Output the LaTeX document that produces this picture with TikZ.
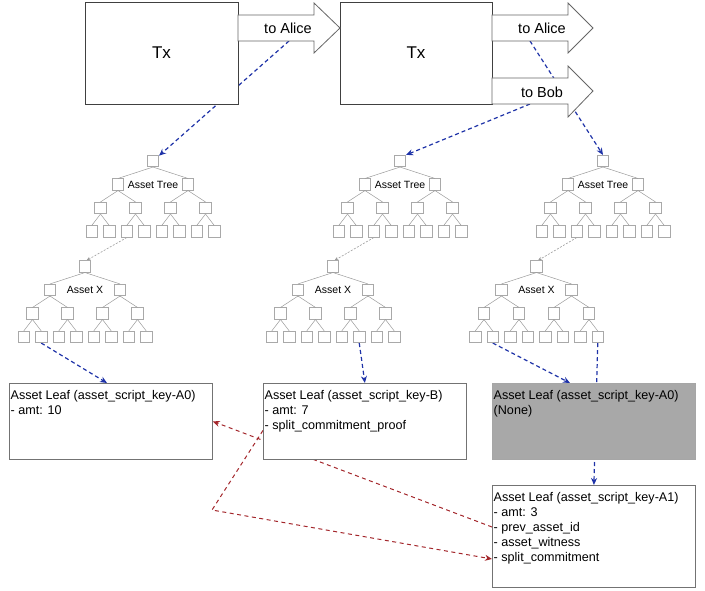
\documentclass[tikz,border=0pt]{standalone}
\usepackage{fontspec}
\setmainfont{Liberation Sans}
\usetikzlibrary{arrows.meta,backgrounds}
\definecolor{bdash}{HTML}{1F33A8}
\definecolor{rdash}{HTML}{A3262B}
\definecolor{tgray}{HTML}{9A9A9A}
\definecolor{boxgray}{HTML}{A8A8A8}
\tikzset{
 tbox/.style={draw=tgray!85, fill=white, line width=0.6pt, minimum width=11.5pt, minimum height=11.5pt, inner sep=0pt},
 tedge/.style={draw=tgray, line width=0.5pt},
 bintree/.pic={
  \node[tbox] (-r) at (0,0) {};
  \node[tbox] (-a) at (-35,23.5) {};
  \node[tbox] (-b) at (35,23.5) {};
  \node[tbox] (-m1) at (-52.5,47) {};
  \node[tbox] (-m2) at (-17.5,47) {};
  \node[tbox] (-m3) at (17.5,47) {};
  \node[tbox] (-m4) at (52.5,47) {};
  \node[tbox] (-l1) at (-61.25,70.5) {};
  \node[tbox] (-l2) at (-43.75,70.5) {};
  \node[tbox] (-l3) at (-26.25,70.5) {};
  \node[tbox] (-l4) at (-8.75,70.5) {};
  \node[tbox] (-l5) at (8.75,70.5) {};
  \node[tbox] (-l6) at (26.25,70.5) {};
  \node[tbox] (-l7) at (43.75,70.5) {};
  \node[tbox] (-l8) at (61.25,70.5) {};
  \node[font=\fontsize{10.5}{12}\selectfont, inner sep=0pt] (-lab) at (0,23.5) {#1};
  \draw[tedge] (-r.south) -- (-a.north);
  \draw[tedge] (-r.south) -- (-b.north);
  \draw[tedge] (-a.south) -- (-m1.north);
  \draw[tedge] (-a.south) -- (-m2.north);
  \draw[tedge] (-b.south) -- (-m3.north);
  \draw[tedge] (-b.south) -- (-m4.north);
  \draw[tedge] (-m1.south) -- (-l1.north);
  \draw[tedge] (-m1.south) -- (-l2.north);
  \draw[tedge] (-m2.south) -- (-l3.north);
  \draw[tedge] (-m2.south) -- (-l4.north);
  \draw[tedge] (-m3.south) -- (-l5.north);
  \draw[tedge] (-m3.south) -- (-l6.north);
  \draw[tedge] (-m4.south) -- (-l7.north);
  \draw[tedge] (-m4.south) -- (-l8.north);
 },
 txbox/.style={draw=black!75, fill=white, line width=0.8pt, minimum width=153pt, minimum height=102pt, font=\fontsize{17}{20}\selectfont},
 outarrow/.style={draw=black!60, fill=white, line width=0.8pt},
 arrowlabel/.style={font=\fontsize{14.5}{17}\selectfont, inner sep=0pt},
 leafbox/.style={draw=black!55, fill=white, line width=0.8pt, minimum width=203pt, minimum height=76pt, inner sep=0pt, anchor=north west},
 leaftext/.style={font=\fontsize{12.6}{15}\selectfont, align=left, inner sep=0pt, anchor=north west},
 bluelink/.style={draw=bdash, line width=1.2pt, dash pattern=on 4pt off 3pt, -{Stealth[length=7pt,width=6pt]}},
 greylink/.style={draw=tgray, line width=0.6pt, dash pattern=on 2pt off 1.5pt, -{Stealth[length=4pt,width=3.5pt]}},
 redlink/.style={draw=rdash, line width=1pt, dash pattern=on 4pt off 3.5pt, -{Stealth[length=7pt,width=6pt]}}
}
\begin{document}
\begin{tikzpicture}[x=1pt,y=-1pt]
\useasboundingbox (0,0) rectangle (705,591);
% transactions
\node[txbox] (tx1) at (161.5,53) {Tx};
\node[txbox, minimum width=152pt] (tx2) at (416,53) {Tx};
\draw[outarrow] (238,15) -- (314,15) -- (314,3) -- (340,28) -- (314,53) -- (314,41) -- (238,41) -- cycle;
\draw[outarrow] (492,15) -- (568,15) -- (568,3) -- (593,28) -- (568,53) -- (568,41) -- (492,41) -- cycle;
\draw[outarrow] (492,78) -- (568,78) -- (568,66) -- (593,91) -- (568,117) -- (568,104) -- (492,104) -- cycle;
\node[arrowlabel] (alice1) at (288,28) {to Alice};
\node[arrowlabel] (alice2) at (542,28) {to Alice};
\node[arrowlabel] (bob) at (542,92) {to Bob};
\coordinate (alice1b) at (289,41);
\coordinate (alice2b) at (530,41);
\coordinate (bobb) at (530,104);
% trees
\pic (T1) at (153,161) {bintree={Asset Tree}};
\pic (T2) at (400,161) {bintree={Asset Tree}};
\pic (T3) at (603,161) {bintree={Asset Tree}};
\pic (X1) at (85,266.5) {bintree={Asset X}};
\pic (X2) at (333,266.5) {bintree={Asset X}};
\pic (X3) at (536.5,266.5) {bintree={Asset X}};
% leaves
\node[leafbox] (leafA0) at (9,383) {};
\node[leafbox] (leafB) at (263,383) {};
\node[leafbox, fill=boxgray, draw=black!35] (leafN) at (492,383) {};
\node[leafbox, minimum height=102pt] (leafA1) at (492,485) {};
\node[leaftext] (txtA0) at ([xshift=1.5pt,yshift=-7.3pt]leafA0.north west) {Asset Leaf (asset\_script\_key-A0)\\- amt: 10};
\node[leaftext] (txtB) at ([xshift=1.5pt,yshift=-7.3pt]leafB.north west) {Asset Leaf (asset\_script\_key-B)\\- amt: 7\\- split\_commitment\_proof};
\node[leaftext] (txtN) at ([xshift=1.5pt,yshift=-7.3pt]leafN.north west) {Asset Leaf (asset\_script\_key-A0)\\(None)};
\node[leaftext] (txtA1) at ([xshift=1.5pt,yshift=-7.3pt]leafA1.north west) {Asset Leaf (asset\_script\_key-A1)\\- amt: 3\\- prev\_asset\_id\\- asset\_witness\\- split\_commitment};
\coordinate (pid) at ([yshift=-42pt]leafA1.north west);
\coordinate (scm) at ([yshift=-74pt]leafA1.north west);
\coordinate (spf) at ([yshift=-9pt]leafB.west);
\coordinate (bend) at (212,510);
% connectors
\begin{scope}[on background layer]
\draw[bluelink] (alice1b) -- (T1-r);
\draw[bluelink] (bobb) -- (T2-r.north east);
\draw[bluelink] (alice2b) -- (T3-r.north);
\draw[greylink] (T1-l3.south) -- ([xshift=1.5pt]X1-r.north);
\draw[greylink] (T2-l3.south) -- ([xshift=1.5pt]X2-r.north);
\draw[greylink] (T3-l3.south) -- ([xshift=1.5pt]X3-r.north);
\draw[bluelink] (X1-l2.south) -- ([xshift=98pt]leafA0.north west);
\draw[bluelink] (X2-l6.south) -- (leafB.north);
\draw[bluelink] (X3-l2.south) -- ([xshift=78pt]leafN.north west);
\draw[bluelink] (X3-l8.south) -- (leafA1.north);
\draw[redlink] (pid) -- (leafA0.east);
\draw[redlink] (spf) -- (bend) -- (scm);
\end{scope}
\end{tikzpicture}
\end{document}
